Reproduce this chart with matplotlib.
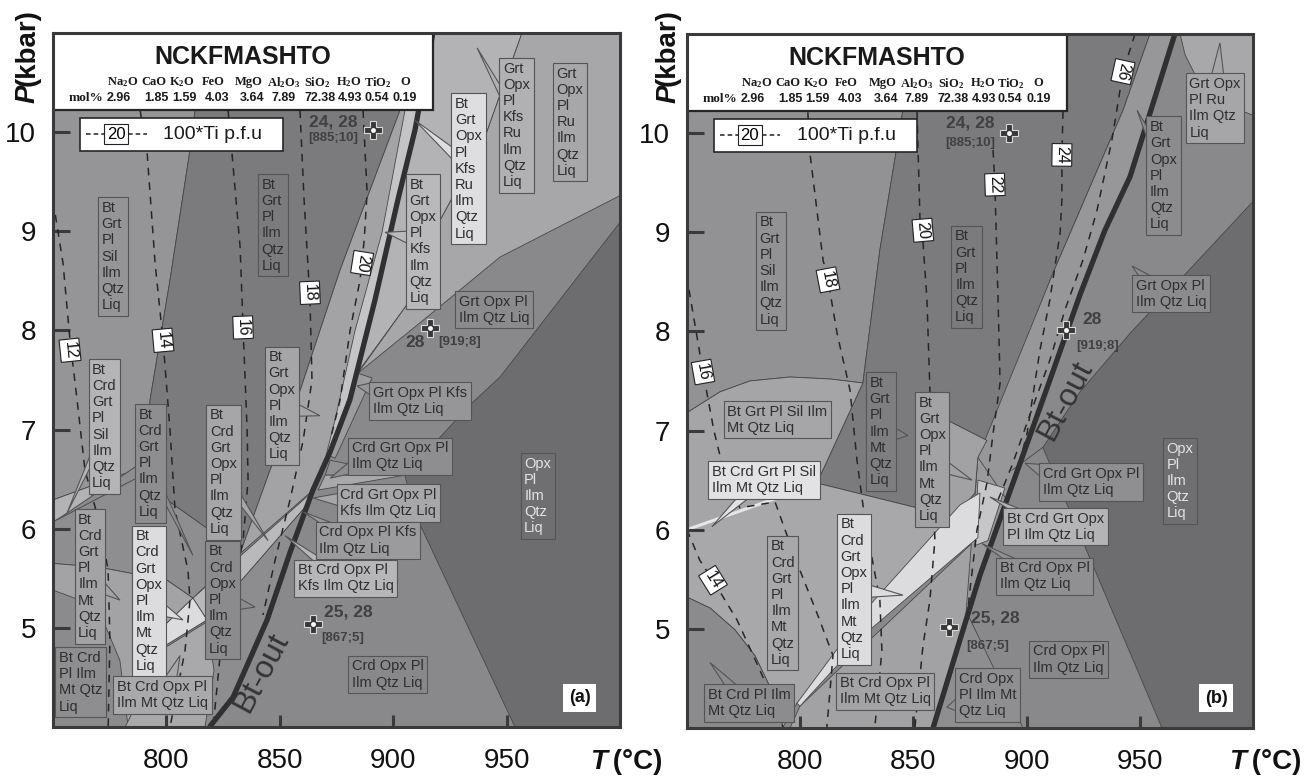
import numpy as np
import matplotlib.pyplot as plt
from matplotlib.patches import Polygon, Rectangle
from matplotlib.colors import to_rgb

plt.rcParams["font.family"] = ["Liberation Sans", "DejaVu Sans"]
plt.rcParams["mathtext.fontset"] = "custom"
plt.rcParams["mathtext.rm"] = "Liberation Serif:bold"
plt.rcParams["mathtext.bf"] = "Liberation Serif:bold"
plt.rcParams["mathtext.it"] = "Liberation Serif:bold:italic"

T_RANGE = (750, 1000)
P_RANGE = (4, 11)
T_TICKS = [800, 850, 900, 950]
P_TICKS = [5, 6, 7, 8, 9, 10]

OXIDES = ["Na$_2$O", "CaO", "K$_2$O", "FeO", "MgO", "Al$_2$O$_3$", "SiO$_2$",
          "H$_2$O", "TiO$_2$", "O"]
MOL_PCT = ["2.96", "1.85", "1.59", "4.03", "3.64", "7.89", "72.38", "4.93",
           "0.54", "0.19"]

# ---------------- panel (a): T (degC), P (kbar) ----------
A_BTOUT = [(819.0, 4.0), (829.4, 4.30), (844.4, 5.08), (854.5, 5.76),
           (864.6, 6.39), (872.1, 6.77), (880.9, 7.30), (892.0, 8.31),
           (902.1, 9.32), (909.6, 10.02), (917.5, 11.0)]

A_FIELDS = {
    "left": [(750, 11.0), (817.0, 11.0), (810.4, 9.82), (801.6, 8.51), (792.8, 7.30),
             (790.6, 6.63), (750, 6.29)],
    "silcrd": [(750, 6.29), (790.6, 6.63), (792.8, 6.59), (750, 6.07)],
    "dark": [(817.0, 11.0), (914.1, 11.0), (903.0, 10.22), (876.6, 8.61), (857.6, 7.30),
             (845.7, 6.59), (832.5, 5.75), (820.6, 5.96), (797.2, 6.34), (790.6, 6.63),
             (792.8, 7.30), (801.6, 8.51), (810.4, 9.82)],
    "ll1": [(750, 6.07), (792.8, 6.59), (797.2, 6.34), (820.6, 5.96), (832.5, 5.75),
            (811.7, 5.30), (800.3, 5.48), (770.7, 5.61), (750, 5.65)],
    "ll2": [(750, 5.65), (770.7, 5.61), (800.3, 5.48), (811.7, 5.30), (799.4, 5.03),
            (799.4, 4.82), (792.8, 4.37), (786.2, 4.0), (750, 4.0)],
    "ll3": [(750, 5.38), (761.9, 5.28), (772.9, 5.03), (779.5, 4.67), (783.1, 4.0),
            (750, 4.0)],
    "ll5": [(817.9, 5.08), (861.6, 6.23), (854.5, 5.76), (844.4, 5.08), (829.4, 4.30),
            (819.0, 4.0), (805.0, 4.0), (799.4, 4.82)],
    "ll4": [(781.8, 4.0), (799.4, 4.80), (817.9, 5.06), (821.0, 4.57), (817.0, 4.0)],
    "opx": [(914.1, 11.0), (903.0, 10.22), (876.6, 8.61), (857.6, 7.30), (845.7, 6.59),
            (832.5, 5.75), (864.7, 6.39), (872.1, 6.77), (880.9, 7.30), (892.0, 8.31),
            (902.1, 9.32), (909.6, 10.02), (917.5, 11.0)],
    "kfs": [(912.3, 11.0), (905.2, 10.22), (895.1, 8.99), (883.2, 8.00), (874.4, 7.10),
            (870.4, 6.74), (872.1, 6.77), (880.9, 7.30), (892.0, 8.31), (902.1, 9.32),
            (909.6, 10.02), (917.5, 11.0)],
    "band": [(811.7, 5.30), (863.3, 6.35), (861.6, 6.23), (817.9, 5.08)],
    "wedge": [(811.7, 5.30), (817.9, 5.08), (799.4, 4.82), (799.4, 5.03)],
    "kfsru": [(917.5, 11.0), (909.6, 10.02), (902.1, 9.32), (892.0, 8.31), (884.1, 7.57),
              (906.1, 8.26), (920.7, 9.11), (940.5, 9.95), (956.8, 11.0)],
    "ru": [(956.8, 11.0), (1000, 11.0), (1000, 9.36), (947.1, 8.74), (916.3, 8.16),
           (884.5, 7.57), (906.1, 8.26), (920.7, 9.11), (940.5, 9.95)],
    "opxonly": [(1000, 9.09), (1000, 4.0), (953.7, 4.0), (908.8, 6.19), (905.2, 6.54),
                (933.9, 7.25), (947.1, 7.53)],
    "kfs2": [(884.1, 7.57), (890.7, 7.52), (874.4, 6.71), (871.6, 6.74)],
    "crdgrt": [(872.2, 6.69), (905.2, 6.54), (870.0, 6.54)],
    "crdgrtkfs": [(870.0, 6.54), (905.2, 6.54), (866.9, 6.39)],
}
A_GRAY = {"left": "#959597", "silcrd": "#b3b3b5", "dark": "#7b7b7d", "ll1": "#8e8e90",
          "ll2": "#a3a3a5", "ll3": "#8b8b8d", "ll5": "#8d8d8f", "ll4": "#a9a9ab",
          "opx": "#a3a3a5", "kfs": "#c4c4c6", "band": "#b9b9bb", "wedge": "#dcdcde",
          "kfsru": "#b3b3b5", "ru": "#a7a7a9", "opxonly": "#6d6d6f", "kfs2": "#9c9c9e",
          "crdgrt": "#909092", "crdgrtkfs": "#a9a9ab"}

A_ISO = {
    12: [(750, 9.31), (754.4, 8.68), (757.5, 7.90), (760.6, 7.30), (764.1, 6.59),
         (770.7, 6.04), (774.3, 5.58), (775.1, 4.88), (774.3, 4.0)],
    14: [(788.4, 10.22), (791.5, 9.79), (795.0, 8.68), (798.5, 7.90), (801.6, 6.99),
         (803.8, 6.19), (809.5, 5.58), (810.4, 5.28), (808.2, 4.77), (801.6, 4.0)],
    16: [(827.2, 10.22), (828.9, 9.79), (832.5, 8.84), (833.8, 8.03), (835.6, 6.99),
         (836.0, 6.49), (833.8, 5.88), (828.1, 5.28), (823.6, 4.70), (820.6, 4.0)],
    18: [(858.9, 10.22), (860.7, 9.32), (863.3, 8.31), (864.2, 7.50), (860.3, 6.89),
         (854.5, 6.29), (847.9, 5.68), (842.6, 5.13)],
    20: [(886.7, 10.22), (888.5, 9.39), (887.2, 8.91), (885.4, 8.51), (881.0, 8.00),
         (876.6, 7.30), (872.2, 6.89)],
}
A_ISO_AT = {12: (757.5, 7.80), 14: (798.5, 7.90), 16: (833.8, 8.03),
            18: (863.3, 8.38), 20: (886.3, 8.68)}

A_LABELS = [
    ("Bt\nGrt\nPl\nSil\nIlm\nQtz\nLiq", 776.5, 8.745, "#959597", []),
    ("Bt\nGrt\nPl\nIlm\nQtz\nLiq", 847.0, 9.06, "#7b7b7d", []),
    ("Bt\nGrt\nOpx\nPl\nIlm\nQtz\nLiq", 851.0, 7.24, "#a5a5a7", [(867.7, 7.14)]),
    ("Bt\nGrt\nOpx\nPl\nKfs\nIlm\nQtz\nLiq", 913.2, 8.90, "#b9b9bb", [(896.4, 8.99)]),
    ("Bt\nGrt\nOpx\nPl\nKfs\nRu\nIlm\nQtz\nLiq", 933.2, 9.63, "#dedee0", [(909.6, 10.12)]),
    ("Grt\nOpx\nPl\nKfs\nRu\nIlm\nQtz\nLiq", 954.4, 10.07, "#b1b1b3", [(937.0, 10.85)]),
    ("Grt\nOpx\nPl\nRu\nIlm\nQtz\nLiq", 978.0, 10.10, "#a7a7a9", []),
    ("Grt Opx Pl\nIlm Qtz Liq", 944.5, 8.21, "#8b8b8d", []),
    ("Grt Opx Pl Kfs\nIlm Qtz Liq", 911.8, 7.29, "#969698", [(884.1, 7.44)]),
    ("Crd Grt Opx Pl\nIlm Qtz Liq", 903.0, 6.73, "#8e8e90", [(872.2, 6.51)]),
    ("Crd Grt Opx Pl\nKfs Ilm Qtz Liq", 898.0, 6.26, "#a7a7a9", [(864.7, 6.31)]),
    ("Crd Opx Pl Kfs\nIlm Qtz Liq", 888.9, 5.88, "#9b9b9d", [(860.3, 6.17)]),
    ("Bt Crd Opx Pl\nKfs Ilm Qtz Liq", 879.0, 5.50, "#b6b6b8", [(852.3, 5.93)]),
    ("Crd Opx Pl\nIlm Qtz Liq", 897.5, 4.53, "#88888a", []),
    ("Opx\nPl\nIlm\nQtz\nLiq", 963.7, 6.33, "#6f6f71", []),
    ("Bt\nCrd\nGrt\nPl\nSil\nIlm\nQtz\nLiq", 772.5, 7.03, "#b4b4b6", [(756.2, 6.16)]),
    ("Bt\nCrd\nGrt\nPl\nIlm\nQtz\nLiq", 792.8, 6.66, "#8e8e90", [(751.8, 6.09), (811.7, 5.73)]),
    ("Bt\nCrd\nGrt\nOpx\nPl\nIlm\nQtz\nLiq", 825.2, 6.57, "#a6a6a8", [(844.8, 5.88)]),
    ("Bt\nCrd\nGrt\nPl\nIlm\nMt\nQtz\nLiq", 766.3, 5.52, "#a3a3a5", [(779.5, 5.28)]),
    ("Bt\nCrd\nGrt\nOpx\nPl\nIlm\nMt\nQtz\nLiq", 792.3, 5.27, "#dcdcde", [(807.3, 5.08)]),
    ("Bt\nCrd\nOpx\nPl\nIlm\nQtz\nLiq", 824.7, 5.28, "#8b8b8d", [(839.1, 5.21)]),
    ("Bt Crd\nPl Ilm\nMt Qtz\nLiq", 762.1, 4.45, "#8e8e90", []),
    ("Bt Crd Opx Pl\nIlm Mt Qtz Liq", 798.3, 4.32, "#a9a9ab", [(806.0, 4.72)]),
]
A_POINTS = [(891.1, 10.02), (916.3, 8.02), (864.7, 5.04)]
A_POINT_TEXT = [("24, 28", 873.5, 10.10, 12.5), ("[885;10]", 873.5, 9.94, 9.5),
                ("28", 909.6, 7.88, 12.5), ("[919;8]", 929.5, 7.88, 9.5),
                ("25, 28", 880.1, 5.16, 12.5), ("[867;5]", 877.9, 4.90, 9.5)]
A_BTOUT_TEXT = (842.0, 4.55)

# ---------------- panel (b) ----------------
B_BTOUT = [(858.7, 4.0), (870.6, 4.89), (879.4, 5.54), (891.3, 6.30), (910.3, 7.51),
           (923.6, 8.37), (934.6, 9.02), (945.7, 9.56), (965.5, 11.0)]

B_FIELDS = {
    "left": [(750, 11.0), (848.5, 11.0), (845.4, 10.23), (835.2, 8.82), (827.7, 7.48),
             (813.2, 7.52), (795.5, 7.54), (777.8, 7.50), (764.6, 7.39), (750, 7.18)],
    "dark": [(848.5, 11.0), (954.5, 11.0), (942.6, 10.23), (911.7, 8.59), (882.5, 6.90),
             (865.3, 7.10), (851.6, 6.22), (807.4, 6.47), (827.7, 7.48), (835.2, 8.82),
             (845.4, 10.23)],
    "silmt": [(750, 7.18), (764.6, 7.39), (777.8, 7.50), (795.5, 7.54), (813.2, 7.52),
              (827.7, 7.48), (807.4, 6.47), (791.1, 6.33), (750, 6.00)],
    "crdmt": [(750, 6.00), (791.1, 6.33), (807.4, 6.47), (851.6, 6.22), (865.3, 6.05),
              (877.2, 6.37), (879.4, 6.37), (798.6, 4.25), (792.4, 4.01), (790.2, 4.23),
              (785.3, 4.48), (780.0, 4.73), (771.2, 4.99), (760.2, 5.21), (750, 5.32)],
    "ll": [(750, 5.32), (760.2, 5.21), (771.2, 4.99), (780.0, 4.73), (785.3, 4.48),
           (790.2, 4.23), (792.4, 4.0), (750, 4.0)],
    "below": [(799.9, 4.22), (878.5, 5.92), (873.2, 5.14), (870.6, 4.89), (858.7, 4.0),
              (795.5, 4.0)],
    "btcrdopx": [(878.5, 6.73), (873.2, 5.14), (879.4, 5.54), (891.3, 6.30), (898.0, 6.73)],
    "strip": [(954.5, 11.0), (965.5, 11.0), (945.7, 9.56), (934.6, 9.02), (923.6, 8.37),
              (910.3, 7.51), (891.3, 6.30), (878.5, 6.73), (911.7, 8.59), (942.6, 10.23)],
    "mtopx": [(865.3, 7.10), (882.5, 6.90), (878.5, 6.73), (877.2, 6.37), (865.3, 6.05)],
    "light2": [(878.5, 6.50), (890.4, 6.42), (882.9, 5.89), (877.2, 5.84)],
    "wedge": [(798.6, 4.25), (830.8, 5.24), (870.6, 6.25), (879.4, 6.37), (878.5, 5.92),
              (830.8, 4.99), (799.9, 4.22)],
    "ru": [(967.8, 11.0), (1000, 11.0), (1000, 10.18), (983.2, 10.33), (974.4, 10.59),
           (970.0, 10.79)],
    "opxonly": [(1000, 9.31), (1000, 4.0), (959.8, 4.0), (907.2, 6.83), (923.6, 7.39),
                (945.7, 7.98)],
    "crdopxmt": [(874.1, 5.14), (898.4, 4.0), (858.7, 4.0), (870.6, 4.89)],
}
B_GRAY = {"left": "#929294", "dark": "#7b7b7d", "silmt": "#a5a5a7", "crdmt": "#a8a8aa",
          "ll": "#8b8b8d", "below": "#a2a2a4", "btcrdopx": "#99999b", "strip": "#979799",
          "mtopx": "#a2a2a4", "light2": "#c6c6c8", "wedge": "#dcdcde", "ru": "#a8a8aa",
          "opxonly": "#6d6d6f", "crdopxmt": "#8e8e90"}
B_EXTRA = [(893.6, 6.60), (907.2, 6.83)]
B_SIL_LINE = [(750, 6.00), (791.1, 6.33), (807.4, 6.47)]

B_ISO = {
    14: [(750, 6.00), (755.7, 5.69), (761.5, 5.49), (772.1, 5.09), (780.9, 4.65),
         (786.7, 4.35), (792.4, 4.01)],
    16: [(750.9, 8.42), (757.1, 7.59), (761.9, 7.00), (767.2, 6.50), (773.4, 6.22),
         (788.9, 6.28), (793.3, 6.00), (799.9, 5.59), (807.4, 5.16), (814.5, 4.73),
         (813.2, 4.38), (811.8, 4.01)],
    18: [(803.4, 10.21), (804.3, 9.80), (810.1, 8.72), (812.3, 8.52), (816.3, 7.98),
         (822.0, 7.41), (825.1, 6.70), (828.6, 6.10), (835.2, 5.29), (836.1, 4.78),
         (833.0, 4.01)],
    20: [(851.6, 10.22), (852.9, 9.15), (854.2, 8.92), (856.0, 8.32), (857.3, 7.41),
         (858.7, 6.50), (859.5, 5.89), (857.3, 5.29), (854.2, 4.82), (850.7, 4.01)],
    22: [(885.2, 9.83), (886.0, 9.48), (887.4, 8.32), (888.3, 7.48), (885.2, 6.97),
         (882.5, 6.47), (878.1, 6.00), (875.0, 5.39), (874.1, 5.19)],
    24: [(916.1, 10.22), (915.6, 9.78), (915.6, 9.33), (914.8, 8.99), (910.3, 8.32),
         (905.9, 7.81), (900.2, 6.97), (894.9, 6.50)],
    26: [(947.9, 11.0), (942.6, 10.62), (937.7, 9.93), (931.1, 9.22), (924.9, 8.72),
         (917.0, 8.22), (910.3, 7.71), (901.5, 7.16), (893.6, 6.65), (887.4, 6.30)],
}
B_ISO_AT = {14: (761.5, 5.49), 16: (757.1, 7.59), 18: (812.3, 8.52), 20: (854.2, 9.02),
            22: (886.0, 9.48), 24: (915.6, 9.78), 26: (942.6, 10.62)}

B_LABELS = [
    ("Bt\nGrt\nPl\nSil\nIlm\nQtz\nLiq", 787.1, 8.61, "#929294", []),
    ("Bt\nGrt\nPl\nIlm\nQtz\nLiq", 873.5, 8.55, "#7b7b7d", []),
    ("Bt Grt Pl Sil Ilm\nMt Qtz Liq", 790.0, 7.11, "#a6a6a8", []),
    ("Bt Crd Grt Pl Sil\nIlm Mt Qtz Liq", 784.0, 6.50, "#e2e2e4", [(761.0, 6.03)]),
    ("Bt\nGrt\nPl\nIlm\nMt\nQtz\nLiq", 835.7, 6.99, "#7e7e80", [(847.6, 6.95)]),
    ("Bt\nGrt\nOpx\nPl\nIlm\nMt\nQtz\nLiq", 858.4, 6.71, "#a2a2a4", [(875.9, 6.50)]),
    ("Bt\nCrd\nGrt\nPl\nIlm\nMt\nQtz\nLiq", 792.4, 5.26, "#a8a8aa", []),
    ("Bt\nCrd\nGrt\nOpx\nPl\nIlm\nMt\nQtz\nLiq", 823.8, 5.40, "#dcdcde", [(845.4, 5.34)]),
    ("Bt Crd Pl Ilm\nMt Qtz Liq", 777.4, 4.25, "#8c8c8e", [(760.2, 4.66)]),
    ("Bt Crd Opx Pl\nIlm Mt Qtz Liq", 837.5, 4.37, "#a3a3a5", []),
    ("Crd Opx\nPl Ilm Mt\nQtz Liq", 882.7, 4.33, "#8f8f91", [(864.8, 4.21)]),
    ("Crd Opx Pl\nIlm Qtz Liq", 918.7, 4.69, "#88888a", []),
    ("Bt Crd Opx Pl\nIlm Qtz Liq", 908.1, 5.53, "#909092", [(880.3, 5.86)]),
    ("Bt Crd Grt Opx\nPl Ilm Qtz Liq", 912.8, 6.03, "#b4b4b6", [(883.8, 6.33)]),
    ("Crd Grt Opx Pl\nIlm Qtz Liq", 928.4, 6.48, "#8f8f91", [(899.3, 6.67)]),
    ("Opx\nPl\nIlm\nQtz\nLiq", 967.8, 6.49, "#6f6f71", []),
    ("Grt Opx Pl\nIlm Qtz Liq", 963.8, 8.38, "#8b8b8d", [(946.6, 8.66)]),
    ("Bt\nGrt\nOpx\nPl\nIlm\nQtz\nLiq", 960.5, 9.57, "#8c8c8e", [(948.8, 10.23)]),
    ("Grt Opx\nPl Ru\nIlm Qtz\nLiq", 983.2, 10.25, "#a6a6a8", [(985.4, 10.91)]),
]
B_POINTS = [(892.2, 10.0), (917.4, 8.01), (865.7, 5.02)]
B_POINT_TEXT = [("24, 28", 875.0, 10.10, 12.5), ("[885;10]", 875.0, 9.90, 9.5),
                ("28", 928.9, 8.12, 12.5), ("[919;8]", 931.5, 7.85, 9.5),
                ("25, 28", 886.0, 5.11, 12.5), ("[867;5]", 883.0, 4.83, 9.5)]
B_BTOUT_TEXT = (917.0, 7.30)

INK = "#3a3a3a"
EDGE = "#474747"

# header layout (axes fraction)
OXIDE_X = [0.123, 0.178, 0.228, 0.282, 0.346, 0.406, 0.466, 0.522, 0.573, 0.621]
VALUE_X = [0.116, 0.182, 0.231, 0.289, 0.351, 0.406, 0.471, 0.524, 0.571, 0.621]


def header(ax):
    ax.add_patch(Rectangle((0.0, 0.889), 0.671, 0.111, transform=ax.transAxes,
                           fc="white", ec="#262626", lw=1.6, zorder=8))
    ax.text(0.335, 0.966, "NCKFMASHTO", transform=ax.transAxes, ha="center",
            va="center", fontsize=18, fontweight="bold", color="#1a1a1a", zorder=9)
    for x, ox in zip(OXIDE_X, OXIDES):
        ax.text(x, 0.929, ox, transform=ax.transAxes, ha="center", va="center",
                family=["Liberation Serif"], fontweight="bold", fontsize=9,
                color="#1a1a1a", zorder=9)
    ax.text(0.058, 0.906, "mol%", transform=ax.transAxes, ha="center", va="center",
            family=["Liberation Serif"], fontweight="bold", fontsize=9.5,
            color="#1a1a1a", zorder=9)
    for x, v in zip(VALUE_X, MOL_PCT):
        ax.text(x, 0.906, v, transform=ax.transAxes, ha="center", va="center",
                fontweight="bold", fontsize=9, color="#1a1a1a", zorder=9)
    # Ti legend
    ax.add_patch(Rectangle((0.048, 0.830), 0.358, 0.048, transform=ax.transAxes,
                           fc="white", ec="#262626", lw=1.2, zorder=8))
    for x0, x1 in [(0.058, 0.090), (0.133, 0.165)]:
        ax.plot([x0, x1], [0.854, 0.854], transform=ax.transAxes, color="#222222",
                lw=1.1, ls=(0, (3, 2)), zorder=9)
    ax.text(0.111, 0.854, "20", transform=ax.transAxes, ha="center", va="center",
            fontsize=12, zorder=10,
            bbox=dict(boxstyle="square,pad=0.15", fc="white", ec="#222222", lw=0.8))
    ax.text(0.282, 0.854, "100*Ti p.f.u", transform=ax.transAxes, ha="center",
            va="center", fontsize=14, color="#1a1a1a", zorder=9)


def draw_panel(ax, fields, gray, btout, isos, iso_at, labels, points, ptext,
               btout_text, tag, tag_pos):
    ax.set_xlim(*T_RANGE)
    ax.set_ylim(*P_RANGE)
    ax.set_facecolor("#89898b")
    for name, verts in fields.items():
        ax.add_patch(Polygon(verts, closed=True, fc=gray[name], ec=EDGE, lw=0.6,
                             zorder=1))
    bt = np.array(btout)
    ax.plot(bt[:, 0], bt[:, 1], color="#303030", lw=3.8, solid_capstyle="butt",
            zorder=3)
    ax.text(*btout_text, "Bt-out", rotation=62, ha="center", va="center",
            fontsize=23, color="#333333", zorder=3)

    for val, pts in isos.items():
        arr = np.array(pts)
        ax.plot(arr[:, 0], arr[:, 1], color="#262626", lw=1.1, ls=(0, (5, 4.5)),
                zorder=2)
        lt, lp = iso_at[val]
        disp = ax.transData.transform(arr)
        here = ax.transData.transform((lt, lp))
        i = int(np.argmin(np.hypot(*(disp - here).T)))
        j, k = min(i + 1, len(arr) - 1), max(i - 1, 0)
        d = disp[j] - disp[k]
        ang = np.degrees(np.arctan2(d[1], d[0]))
        ax.text(lt, lp, str(val), rotation=ang, rotation_mode="anchor", ha="center",
                va="center", fontsize=11.5, color="#111111", zorder=6,
                bbox=dict(boxstyle="square,pad=0.15", fc="white", ec="#222222", lw=0.8))

    items = []
    for text, t, p, fc, tips in labels:
        lum = np.mean(to_rgb(fc))
        col = "#e4e4e4" if lum < 0.45 else "#2e2e2e"
        txt = ax.text(t, p, text, ha="center", va="center", multialignment="left",
                      fontsize=10.5, color=col, linespacing=1.2, zorder=5,
                      bbox=dict(boxstyle="square,pad=0.25", fc=fc, ec="#555555",
                                lw=0.8))
        items.append((txt, tips, fc))

    for t, p in points:
        ax.plot(t, p, marker="P", ms=13, mfc="#383838", mec="#d8d8d8", mew=0.8,
                zorder=7)
        ax.plot(t, p, marker="o", ms=3.5, mfc="white", mec="none", zorder=8)
    for s, t, p, fs in ptext:
        ax.text(t, p, s, ha="center", va="center", fontsize=fs, fontweight="bold",
                color="#404040", zorder=6)

    ax.text(*tag_pos, tag, transform=ax.transAxes, ha="center", va="center",
            fontsize=13, fontweight="bold", color="#111111", zorder=9,
            bbox=dict(boxstyle="square,pad=0.3", fc="white", ec="none"))

    header(ax)

    ax.set_xticks(T_TICKS)
    ax.set_yticks(P_TICKS)
    ax.tick_params(axis="x", direction="in", length=8.5, width=2.2, color=INK,
                   labelsize=20, pad=15, labelcolor="#111111")
    ax.tick_params(axis="y", direction="in", length=12, width=2.2, color=INK,
                   labelsize=20, pad=12, labelcolor="#111111")
    for sp in ax.spines.values():
        sp.set_color(INK)
        sp.set_linewidth(2.2)
        sp.set_zorder(10)
    return items


def add_callouts(fig, ax, items):
    r = fig.canvas.get_renderer()
    inv = ax.transData.inverted()
    for txt, tips, fc in items:
        bb = txt.get_bbox_patch().get_window_extent(r)
        cx, cy = (bb.x0 + bb.x1) / 2, (bb.y0 + bb.y1) / 2
        hw, hh = bb.width / 2, bb.height / 2
        for tip in tips:
            tx, ty = ax.transData.transform(tip)
            dx, dy = tx - cx, ty - cy
            sx = hw / abs(dx) if abs(dx) > 1e-9 else np.inf
            sy = hh / abs(dy) if abs(dy) > 1e-9 else np.inf
            w = 6.0
            if sx < sy:  # exits through left/right side
                ex = cx + np.sign(dx) * (hw - 1)
                ey = float(np.clip(cy + sx * dy, bb.y0 + w + 1, bb.y1 - w - 1))
                base = [(ex, ey + w), (ex, ey - w)]
            else:
                ey = cy + np.sign(dy) * (hh - 1)
                ex = float(np.clip(cx + sy * dx, bb.x0 + w + 1, bb.x1 - w - 1))
                base = [(ex - w, ey), (ex + w, ey)]
            pts = [base[0], (tx, ty), base[1]]
            ax.add_patch(Polygon(inv.transform(pts), closed=True, fc=fc, ec="#555555",
                                 lw=0.8, zorder=4.5))


fig = plt.figure(figsize=(13.06, 7.77), dpi=100)
ax_a = fig.add_axes([0.0406, 0.0644, 0.4341, 0.8931])
ax_b = fig.add_axes([0.5260, 0.0631, 0.4334, 0.8932])

items_a = draw_panel(ax_a, A_FIELDS, A_GRAY, A_BTOUT, A_ISO, A_ISO_AT, A_LABELS,
                     A_POINTS, A_POINT_TEXT, A_BTOUT_TEXT, "(a)", (0.929, 0.042))
items_b = draw_panel(ax_b, B_FIELDS, B_GRAY, B_BTOUT, B_ISO, B_ISO_AT, B_LABELS,
                     B_POINTS, B_POINT_TEXT, B_BTOUT_TEXT, "(b)", (0.935, 0.043))

ex = np.array(B_EXTRA)
ax_b.plot(ex[:, 0], ex[:, 1], color=EDGE, lw=0.6, zorder=1.5)
sl = np.array(B_SIL_LINE)
ax_b.plot(sl[:, 0], sl[:, 1], color="#e6e6e6", lw=2.2, zorder=1.4)

# axis titles
for x_p, x_t in [(0.0214, 0.4518), (0.5115, 0.9410)]:
    fig.text(x_p, 0.8675, "P", rotation=90, ha="center", va="bottom", fontsize=20,
             fontweight="bold", fontstyle="italic", color="#111111")
    fig.text(x_p, 0.889, "(kbar)", rotation=90, ha="center", va="bottom",
             fontsize=20, fontweight="bold", color="#111111")
    fig.text(x_t, 0.019, "T", ha="left", va="center", fontsize=20, fontweight="bold",
             fontstyle="italic", color="#111111")
    fig.text(x_t + 0.0115, 0.019, " (°C)", ha="left", va="center", fontsize=20,
             fontweight="bold", color="#111111")

fig.canvas.draw()
add_callouts(fig, ax_a, items_a)
add_callouts(fig, ax_b, items_b)

fig.savefig("out.png", dpi=100, facecolor="white")
